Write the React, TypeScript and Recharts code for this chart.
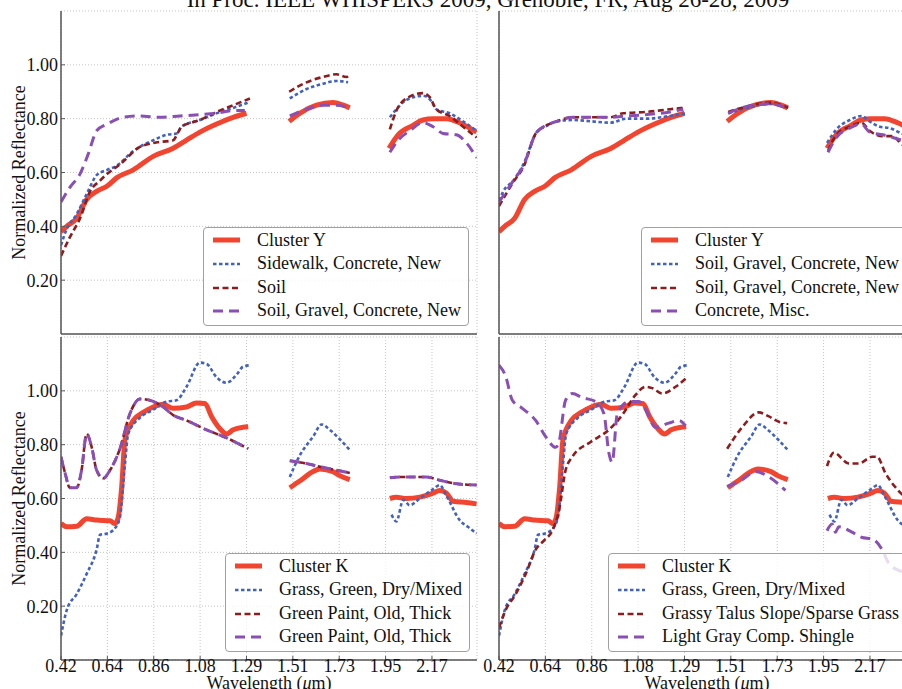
import React from 'react';
import { LineChart, Line, XAxis, YAxis, CartesianGrid } from 'recharts';

type Pt = [number, number | null];

const TITLE = 'In Proc. IEEE WHISPERS 2009, Grenoble, FR, Aug 26-28, 2009';
const X_TICK_LABELS = ['0.42', '0.64', '0.86', '1.08', '1.29', '1.51', '1.73', '1.95', '2.17'];
const X_START = 0.42;
const X_STEP = 0.2187;
const X_END = 2.382;
const X_TICKS = X_TICK_LABELS.map((_, i) => X_START + i * X_STEP);
const Y_TICKS = [0.2, 0.4, 0.6, 0.8, 1.0];
const Y_DOMAIN: [number, number] = [0, 1.2];

// ---- Cluster Y (top panels) ----
const CLUSTER_Y: Pt[] = [
  [0.42, 0.38], [0.447, 0.4], [0.494, 0.43], [0.541, 0.5], [0.588, 0.53], [0.638, 0.55], [0.682, 0.58],
  [0.761, 0.61], [0.855, 0.66], [0.949, 0.69], [1.012, 0.72], [1.075, 0.75], [1.154, 0.78], [1.232, 0.805], [1.295, 0.82],
  [1.4, null],
  [1.496, 0.79], [1.546, 0.82], [1.625, 0.85], [1.703, 0.86], [1.751, 0.85], [1.782, 0.84],
  [1.88, null],
  [1.967, 0.69], [2.01, 0.74], [2.08, 0.775], [2.127, 0.795], [2.175, 0.8], [2.238, 0.8], [2.3, 0.785], [2.38, 0.75],
];
const SIDEWALK_CONCRETE_NEW: Pt[] = [
  [0.42, 0.33], [0.447, 0.39], [0.494, 0.445], [0.541, 0.52], [0.588, 0.59], [0.638, 0.61], [0.682, 0.625],
  [0.761, 0.68], [0.855, 0.72], [0.918, 0.74], [0.965, 0.745], [0.988, 0.77], [1.075, 0.795], [1.154, 0.82], [1.232, 0.84], [1.303, 0.86],
  [1.4, null],
  [1.499, 0.875], [1.578, 0.91], [1.656, 0.93], [1.719, 0.94], [1.774, 0.935],
  [1.88, null],
  [1.971, 0.805], [2.002, 0.835], [2.049, 0.87], [2.127, 0.885], [2.167, 0.865], [2.19, 0.835], [2.253, 0.82], [2.316, 0.79], [2.38, 0.755],
];
const SOIL: Pt[] = [
  [0.42, 0.29], [0.462, 0.36], [0.51, 0.43], [0.557, 0.53], [0.604, 0.57], [0.638, 0.595], [0.698, 0.63],
  [0.792, 0.695], [0.855, 0.71], [0.949, 0.72], [0.973, 0.75], [0.989, 0.77], [1.075, 0.795], [1.154, 0.825], [1.232, 0.85], [1.311, 0.875],
  [1.4, null],
  [1.496, 0.9], [1.578, 0.935], [1.656, 0.955], [1.719, 0.965], [1.766, 0.955], [1.782, 0.965],
  [1.88, null],
  [1.971, 0.76], [2.002, 0.83], [2.049, 0.875], [2.127, 0.895], [2.159, 0.88], [2.19, 0.835], [2.253, 0.81], [2.316, 0.77], [2.38, 0.73],
];
const SOIL_GRAVEL_CONCRETE_NEW_A: Pt[] = [
  [0.42, 0.49], [0.462, 0.545], [0.51, 0.595], [0.549, 0.67], [0.588, 0.755], [0.638, 0.78], [0.714, 0.805],
  [0.792, 0.81], [0.887, 0.805], [0.981, 0.81], [1.075, 0.815], [1.154, 0.82], [1.232, 0.83], [1.287, 0.83],
  [1.4, null],
  [1.499, 0.81], [1.578, 0.835], [1.656, 0.85], [1.719, 0.85], [1.782, 0.84],
  [1.88, null],
  [1.971, 0.675], [2.01, 0.72], [2.065, 0.755], [2.127, 0.785], [2.175, 0.77], [2.222, 0.745], [2.285, 0.74], [2.332, 0.71], [2.38, 0.655],
];
const SOIL_GRAVEL_CONCRETE_NEW_B: Pt[] = [
  [0.42, 0.495], [0.44, 0.53], [0.488, 0.57], [0.535, 0.63], [0.598, 0.75], [0.638, 0.77], [0.692, 0.79],
  [0.77, 0.795], [0.857, 0.79], [0.943, 0.785], [1.022, 0.8], [1.116, 0.8], [1.226, 0.81], [1.304, 0.82],
  [1.4, null],
  [1.501, 0.82], [1.587, 0.84], [1.697, 0.855], [1.776, 0.84],
  [1.88, null],
  [1.967, 0.71], [2.011, 0.76], [2.074, 0.795], [2.129, 0.81], [2.168, 0.79], [2.216, 0.77], [2.263, 0.765], [2.319, 0.745], [2.38, 0.73],
];
const SOIL_GRAVEL_CONCRETE_NEW_C: Pt[] = [
  [0.42, 0.475], [0.488, 0.565], [0.535, 0.62], [0.598, 0.75], [0.692, 0.79], [0.77, 0.805], [0.857, 0.805],
  [0.943, 0.805], [1.006, 0.82], [1.116, 0.825], [1.226, 0.835], [1.289, 0.84],
  [1.4, null],
  [1.501, 0.825], [1.587, 0.845], [1.697, 0.86], [1.784, 0.84],
  [1.88, null],
  [1.972, 0.68], [2.011, 0.74], [2.074, 0.77], [2.129, 0.785], [2.168, 0.755], [2.231, 0.735], [2.278, 0.735], [2.319, 0.705], [2.38, 0.69],
];
const CONCRETE_MISC: Pt[] = [
  [0.42, 0.49], [0.488, 0.57], [0.535, 0.625], [0.598, 0.75], [0.692, 0.79], [0.77, 0.805], [0.857, 0.805],
  [0.943, 0.805], [1.022, 0.81], [1.116, 0.815], [1.226, 0.825], [1.289, 0.835],
  [1.4, null],
  [1.501, 0.82], [1.587, 0.845], [1.697, 0.855], [1.776, 0.84],
  [1.88, null],
  [1.972, 0.675], [2.011, 0.73], [2.074, 0.765], [2.129, 0.78], [2.168, 0.75], [2.231, 0.74], [2.278, 0.73], [2.319, 0.72], [2.38, 0.71],
];

// ---- Cluster K (bottom panels) ----
const CLUSTER_K: Pt[] = [
  [0.42, 0.507], [0.447, 0.495], [0.494, 0.497], [0.541, 0.525], [0.588, 0.52], [0.651, 0.517], [0.675, 0.507],
  [0.69, 0.53], [0.706, 0.64], [0.722, 0.82], [0.761, 0.89], [0.808, 0.92], [0.855, 0.94], [0.902, 0.95],
  [0.949, 0.935], [1.012, 0.94], [1.059, 0.955], [1.099, 0.953], [1.13, 0.905], [1.169, 0.86], [1.201, 0.84],
  [1.232, 0.855], [1.279, 0.865], [1.303, 0.867],
  [1.4, null],
  [1.499, 0.64], [1.546, 0.665], [1.609, 0.7], [1.641, 0.71], [1.703, 0.7], [1.735, 0.685], [1.782, 0.67],
  [1.88, null],
  [1.971, 0.6], [2.002, 0.605], [2.049, 0.6], [2.112, 0.605], [2.175, 0.62], [2.206, 0.63], [2.238, 0.62],
  [2.269, 0.59], [2.332, 0.585], [2.38, 0.58],
];
const GRASS_GREEN_DRY_MIXED: Pt[] = [
  [0.42, 0.09], [0.447, 0.185], [0.494, 0.245], [0.541, 0.32], [0.588, 0.41], [0.604, 0.465], [0.638, 0.47],
  [0.675, 0.49], [0.698, 0.53], [0.722, 0.73], [0.737, 0.84], [0.792, 0.9], [0.855, 0.93], [0.918, 0.96],
  [0.965, 0.965], [1.012, 1.015], [1.075, 1.105], [1.107, 1.1], [1.154, 1.05], [1.201, 1.03], [1.248, 1.06],
  [1.279, 1.09], [1.311, 1.095],
  [1.4, null],
  [1.499, 0.68], [1.546, 0.76], [1.609, 0.83], [1.649, 0.875], [1.688, 0.855], [1.735, 0.82], [1.782, 0.78],
  [1.88, null],
  [1.979, 0.54], [2.002, 0.515], [2.034, 0.595], [2.065, 0.575], [2.112, 0.6], [2.175, 0.635], [2.206, 0.65],
  [2.238, 0.61], [2.3, 0.52], [2.347, 0.49], [2.38, 0.47],
];
const GREEN_PAINT_OLD_THICK_A: Pt[] = [
  [0.42, 0.755], [0.439, 0.695], [0.462, 0.64], [0.494, 0.64], [0.517, 0.705], [0.541, 0.84], [0.565, 0.79],
  [0.588, 0.705], [0.62, 0.675], [0.651, 0.705], [0.698, 0.785], [0.745, 0.915], [0.792, 0.97], [0.839, 0.965],
  [0.902, 0.94], [0.949, 0.91], [1.012, 0.89], [1.107, 0.855], [1.201, 0.825], [1.303, 0.785],
  [1.4, null],
  [1.499, 0.74], [1.578, 0.73], [1.641, 0.718], [1.703, 0.708], [1.782, 0.695],
  [1.88, null],
  [1.971, 0.677], [2.018, 0.68], [2.096, 0.68], [2.143, 0.68], [2.206, 0.668], [2.285, 0.655], [2.38, 0.65],
];
const GREEN_PAINT_OLD_THICK_B: Pt[] = [
  [0.42, 0.755], [0.439, 0.695], [0.462, 0.64], [0.494, 0.64], [0.517, 0.705], [0.541, 0.84], [0.565, 0.79],
  [0.588, 0.705], [0.62, 0.675], [0.651, 0.705], [0.698, 0.785], [0.745, 0.915], [0.792, 0.97], [0.839, 0.965],
  [0.902, 0.94], [0.949, 0.91], [1.012, 0.89], [1.107, 0.855], [1.201, 0.825], [1.303, 0.785],
  [1.4, null],
  [1.499, 0.74], [1.578, 0.73], [1.641, 0.718], [1.703, 0.708], [1.782, 0.695],
  [1.88, null],
  [1.971, 0.677], [2.018, 0.68], [2.096, 0.68], [2.143, 0.68], [2.206, 0.668], [2.285, 0.655], [2.38, 0.65],
];
const GRASSY_TALUS_SLOPE: Pt[] = [
  [0.42, 0.12], [0.451, 0.185], [0.499, 0.245], [0.546, 0.32], [0.593, 0.41], [0.634, 0.445], [0.671, 0.48],
  [0.703, 0.555], [0.734, 0.705], [0.766, 0.755], [0.852, 0.81], [0.938, 0.855], [1.001, 0.91], [1.064, 0.985],
  [1.111, 1.015], [1.143, 1.01], [1.19, 0.99], [1.253, 1.015], [1.3, 1.045],
  [1.4, null],
  [1.496, 0.785], [1.567, 0.865], [1.645, 0.92], [1.693, 0.905], [1.74, 0.885], [1.779, 0.88],
  [1.88, null],
  [1.967, 0.72], [1.999, 0.77], [2.07, 0.73], [2.117, 0.73], [2.18, 0.755], [2.203, 0.755], [2.242, 0.695],
  [2.315, 0.62], [2.38, 0.58],
];
const LIGHT_GRAY_SHINGLE: Pt[] = [
  [0.42, 1.095], [0.451, 1.055], [0.483, 0.965], [0.53, 0.935], [0.593, 0.89], [0.64, 0.83], [0.687, 0.79],
  [0.703, 0.81], [0.734, 0.965], [0.766, 0.99], [0.813, 0.975], [0.876, 0.96], [0.915, 0.915], [0.938, 0.77],
  [0.954, 0.735], [0.978, 0.915], [1.033, 0.96], [1.08, 0.96], [1.111, 0.93], [1.158, 0.865], [1.221, 0.88],
  [1.268, 0.89], [1.3, 0.87],
  [1.4, null],
  [1.496, 0.645], [1.567, 0.67], [1.63, 0.7], [1.693, 0.68], [1.771, 0.63],
  [1.88, null],
  [1.967, 0.48], [1.991, 0.505], [2.007, 0.475], [2.022, 0.495], [2.085, 0.475], [2.132, 0.455], [2.18, 0.45],
  [2.227, 0.41], [2.258, 0.36], [2.315, 0.33], [2.38, 0.32],
];

const SERIF = '"Liberation Serif", "Times New Roman", serif';
const FRAME = '#555';
const TEXT = '#111';

type Kind = 'cluster' | 'blue' | 'darkred' | 'purple';
const STYLE: Record<Kind, { stroke: string; width: number; dash?: string }> = {
  cluster: { stroke: '#f2452f', width: 5 },
  blue: { stroke: '#4262c2', width: 2.6, dash: '3.5 2.5' },
  darkred: { stroke: '#8e1c1c', width: 2.6, dash: '6 3.5' },
  purple: { stroke: '#8a4fb4', width: 3, dash: '10 6' },
};

type Series = { name: string; data: Pt[]; kind: Kind };
type PanelCfg = {
  id: string; left: number; top: number; width: number; height: number;
  margin: { top: number; right: number; bottom: number; left: number };
  yAxisWidth: number; xAxisHeight: number; showY: boolean; showX: boolean;
  legendRight: number; legendBottom: number; series: Series[];
};

const PANELS: PanelCfg[] = [
  {
    id: 'tl', left: 0, top: 0, width: 482, height: 340, margin: { top: 11, right: 5, bottom: 0, left: 0 },
    yAxisWidth: 61, xAxisHeight: 6, showY: true, showX: false, legendRight: 13, legendBottom: 14,
    series: [
      { name: 'Cluster Y', data: CLUSTER_Y, kind: 'cluster' },
      { name: 'Sidewalk, Concrete, New', data: SIDEWALK_CONCRETE_NEW, kind: 'blue' },
      { name: 'Soil', data: SOIL, kind: 'darkred' },
      { name: 'Soil, Gravel, Concrete, New', data: SOIL_GRAVEL_CONCRETE_NEW_A, kind: 'purple' },
    ],
  },
  {
    id: 'tr', left: 470, top: 0, width: 460, height: 340, margin: { top: 11, right: 15, bottom: 0, left: 0 },
    yAxisWidth: 29, xAxisHeight: 6, showY: false, showX: false, legendRight: 23, legendBottom: 14,
    series: [
      { name: 'Cluster Y', data: CLUSTER_Y, kind: 'cluster' },
      { name: 'Soil, Gravel, Concrete, New', data: SOIL_GRAVEL_CONCRETE_NEW_B, kind: 'blue' },
      { name: 'Soil, Gravel, Concrete, New', data: SOIL_GRAVEL_CONCRETE_NEW_C, kind: 'darkred' },
      { name: 'Concrete, Misc.', data: CONCRETE_MISC, kind: 'purple' },
    ],
  },
  {
    id: 'bl', left: 0, top: 335, width: 482, height: 354, margin: { top: 2, right: 5, bottom: 0, left: 0 },
    yAxisWidth: 61, xAxisHeight: 29, showY: true, showX: true, legendRight: 12, legendBottom: 37,
    series: [
      { name: 'Cluster K', data: CLUSTER_K, kind: 'cluster' },
      { name: 'Grass, Green, Dry/Mixed', data: GRASS_GREEN_DRY_MIXED, kind: 'blue' },
      { name: 'Green Paint, Old, Thick', data: GREEN_PAINT_OLD_THICK_A, kind: 'darkred' },
      { name: 'Green Paint, Old, Thick', data: GREEN_PAINT_OLD_THICK_B, kind: 'purple' },
    ],
  },
  {
    id: 'br', left: 470, top: 335, width: 460, height: 354, margin: { top: 2, right: 15, bottom: 0, left: 0 },
    yAxisWidth: 29, xAxisHeight: 29, showY: false, showX: true, legendRight: 23, legendBottom: 37,
    series: [
      { name: 'Cluster K', data: CLUSTER_K, kind: 'cluster' },
      { name: 'Grass, Green, Dry/Mixed', data: GRASS_GREEN_DRY_MIXED, kind: 'blue' },
      { name: 'Grassy Talus Slope/Sparse Grass', data: GRASSY_TALUS_SLOPE, kind: 'darkred' },
      { name: 'Light Gray Comp. Shingle', data: LIGHT_GRAY_SHINGLE, kind: 'purple' },
    ],
  },
];

const toPts = (arr: Pt[]) => arr.map(([x, y]) => ({ x, y }));
const fmtX = (v: number) => {
  const i = Math.round((v - X_START) / X_STEP);
  return X_TICK_LABELS[i] ?? '';
};
const fmtY = (v: number) => v.toFixed(2);

const XLabel = (props: any) => {
  const vb = props.viewBox || { x: 0, y: 0, width: 0, height: 0 };
  const cx = vb.x + vb.width / 2;
  return (
    <text x={cx} y={vb.y + 29} textAnchor="middle" fontFamily={SERIF} fontSize={18} fill={TEXT}>
      Wavelength (<tspan fontStyle="italic">μ</tspan>m)
    </text>
  );
};

const YLabel = (props: any) => {
  const vb = props.viewBox || { x: 0, y: 0, width: 0, height: 0 };
  const x = vb.x + 18.5;
  const cy = vb.y + vb.height / 2;
  return (
    <text x={x} y={cy} transform={`rotate(-90, ${x}, ${cy})`} textAnchor="middle" dominantBaseline="central"
      fontFamily={SERIF} fontSize={18} fill={TEXT}>
      Normalized Reflectance
    </text>
  );
};

const tickStyle = { fontFamily: SERIF, fontSize: 18, fill: TEXT };

function LegendBox({ p }: { p: PanelCfg }) {
  return (
    <div
      style={{
        position: 'absolute', right: p.legendRight, bottom: p.legendBottom,
        border: '1px solid #a0a0a0', borderRadius: 4, background: 'rgba(255,255,255,0.8)',
        padding: '1px 7px 2px 9px', fontFamily: SERIF, fontSize: 18, color: TEXT, whiteSpace: 'nowrap',
      }}
    >
      {p.series.map((s, i) => {
        const st = STYLE[s.kind];
        return (
          <div key={i} style={{ height: 23.6, lineHeight: '23.6px', display: 'flex', alignItems: 'center' }}>
            <svg width={27} height={10} style={{ marginRight: 17, flex: 'none' }}>
              <line x1={0} y1={5} x2={27} y2={5} stroke={st.stroke} strokeWidth={st.width} strokeDasharray={st.dash} />
            </svg>
            <span>{s.name}</span>
          </div>
        );
      })}
    </div>
  );
}

function Panel({ p }: { p: PanelCfg }) {
  const axisLine = { stroke: FRAME, strokeWidth: 1.5 };
  const tickLine = { stroke: FRAME, strokeWidth: 1 };
  return (
    <div style={{ position: 'absolute', left: p.left, top: p.top, width: p.width, height: p.height }}>
      <LineChart width={p.width} height={p.height} margin={p.margin}>
        <CartesianGrid xAxisId="x" yAxisId="y" stroke="#c4c4c4" strokeDasharray="1 2" strokeWidth={1} />
        <XAxis
          xAxisId="x" dataKey="x" type="number" domain={[X_START, X_END]} ticks={X_TICKS} interval={0}
          allowDataOverflow height={p.xAxisHeight} tickSize={-4} tickMargin={3}
          tick={p.showX ? tickStyle : false} tickFormatter={fmtX}
          axisLine={axisLine} tickLine={tickLine}
          label={p.showX ? { content: XLabel } : undefined}
        />
        <XAxis
          xAxisId="xt" orientation="top" type="number" domain={[X_START, X_END]} ticks={X_TICKS} interval={0}
          allowDataOverflow height={0} tickSize={-4} tick={false} axisLine={axisLine} tickLine={tickLine}
        />
        <YAxis
          yAxisId="y" type="number" domain={Y_DOMAIN} ticks={Y_TICKS} interval={0} allowDataOverflow
          width={p.yAxisWidth} tickSize={-4} tickMargin={7}
          tick={p.showY ? tickStyle : false} tickFormatter={fmtY}
          axisLine={axisLine} tickLine={tickLine}
          label={p.showY ? { content: YLabel } : undefined}
        />
        <YAxis
          yAxisId="yr" orientation="right" type="number" domain={Y_DOMAIN} ticks={Y_TICKS} interval={0}
          allowDataOverflow width={0} tickSize={-4} tick={false} axisLine={axisLine} tickLine={tickLine}
        />
        {p.series.map((s, i) => {
          const st = STYLE[s.kind];
          return (
            <Line
              key={i} xAxisId="x" yAxisId="y" data={toPts(s.data)} dataKey="y" name={s.name}
              type="monotone" stroke={st.stroke} strokeWidth={st.width} strokeDasharray={st.dash}
              dot={false} activeDot={false} connectNulls={false} isAnimationActive={false}
            />
          );
        })}
      </LineChart>
      <LegendBox p={p} />
    </div>
  );
}

export default function App() {
  return (
    <div style={{ position: 'fixed', left: 0, top: 0, width: 902, height: 689, overflow: 'hidden', background: '#fff' }}>
      <svg width={902} height={20} style={{ position: 'absolute', left: 0, top: 0 }}>
        <text x={488} y={7} textAnchor="middle" fontFamily={SERIF} fontSize={23} fill={TEXT}>{TITLE}</text>
      </svg>
      {PANELS.map((p) => (
        <Panel key={p.id} p={p} />
      ))}
    </div>
  );
}
